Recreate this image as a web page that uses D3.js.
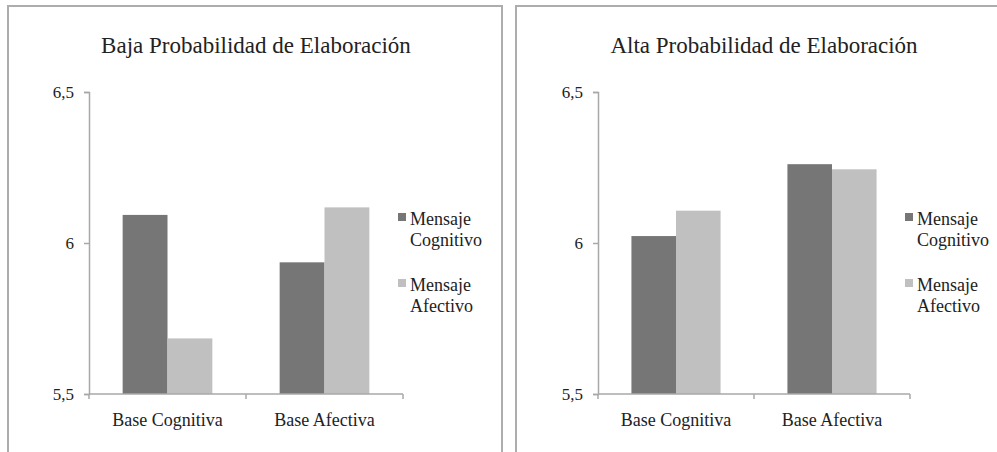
<!DOCTYPE html>
<html>
<head>
<meta charset="utf-8">
<script src="https://cdn.jsdelivr.net/npm/d3@7"></script>
<style>
  body { margin: 0; background: #fff; }
</style>
</head>
<body>
<div id="chart"></div>
<script>
// data
const categories = ["Base Cognitiva", "Base Afectiva"];
const seriesNames = ["Mensaje Cognitivo", "Mensaje Afectivo"];
const titles = ["Baja Probabilidad de Elaboración", "Alta Probabilidad de Elaboración"];
const bajaCognitivo = [6.093, 5.936];
const bajaAfectivo = [5.684, 6.118];
const altaCognitivo = [6.023, 6.261];
const altaAfectivo = [6.107, 6.244];
const yTicks = [5.5, 6, 6.5];
const tickLabels = ["5,5", "6", "6,5"];

const serif = "'Liberation Serif', 'Times New Roman', Tinos, 'DejaVu Serif', serif";

const panels = [
  { title: titles[0], values: [bajaCognitivo, bajaAfectivo], left: 8, right: 502, axisX: 89, axisEnd: 403 },
  { title: titles[1], values: [altaCognitivo, altaAfectivo], left: 516, right: 1010, axisX: 598, axisEnd: 910 }
];

const colorScale = d3.scaleOrdinal().domain(seriesNames).range(["#767676", "#c0c0c0"]);

const svg = d3.select("#chart").append("svg")
  .attr("width", 997).attr("height", 452);

const plotTop = 92, plotBottom = 394;
const yScale = d3.scaleLinear().domain([5.5, 6.5]).range([plotBottom, plotTop]);

panels.forEach(p => {
  const g = svg.append("g");

  // panel frame
  g.append("rect")
    .attr("x", p.left).attr("y", 6)
    .attr("width", p.right - p.left).attr("height", 460)
    .attr("fill", "none").attr("stroke", "#adadad").attr("stroke-width", 2);

  g.append("text")
    .attr("x", (p.axisX + p.axisEnd) / 2 + 10)
    .attr("y", 53)
    .attr("text-anchor", "middle")
    .style("font-family", serif)
    .style("font-size", "23px")
    .attr("fill", "#222")
    .text(p.title);

  const xScale = d3.scaleBand().domain(categories).range([p.axisX, p.axisEnd]);
  // Excel-like gap width 150%: two bars fill 2/3.5 of the band
  const barW = xScale.bandwidth() / 3.5;
  const inner = d3.scaleBand().domain(seriesNames).range([0, barW * 2]);

  const rows = [];
  categories.forEach((c, i) => {
    seriesNames.forEach((s, j) => rows.push({ cat: c, series: s, value: p.values[j][i] }));
  });

  g.selectAll("rect.bar")
    .data(rows)
    .join("rect")
    .attr("class", "bar")
    .attr("x", d => xScale(d.cat) + (xScale.bandwidth() - barW * 2) / 2 + inner(d.series))
    .attr("width", inner.bandwidth())
    .attr("y", d => yScale(d.value))
    .attr("height", d => yScale(5.5) - yScale(d.value))
    .attr("fill", d => colorScale(d.series));

  // y axis
  const yAxis = d3.axisLeft(yScale).tickValues(yTicks)
    .tickFormat((d, i) => tickLabels[i]).tickSize(5).tickPadding(10);
  const ya = g.append("g").attr("transform", `translate(${p.axisX},0)`).call(yAxis);
  ya.attr("font-family", null).attr("font-size", null);
  ya.select(".domain").attr("stroke", "#a8a8a8").attr("stroke-width", 1.5);
  ya.selectAll(".tick line").attr("stroke", "#a8a8a8").attr("stroke-width", 1.5);
  ya.selectAll("text").style("font-size", "17px").style("font-family", serif).attr("fill", "#222");

  // x axis
  const xa = g.append("g").attr("transform", `translate(0,${plotBottom})`)
    .call(d3.axisBottom(xScale).tickSize(0).tickPadding(19));
  xa.attr("font-family", null).attr("font-size", null);
  xa.select(".domain").attr("stroke", "#a8a8a8").attr("stroke-width", 1.5)
    .attr("d", `M${p.axisX},0H${p.axisEnd}`);
  xa.selectAll(".tick line").remove();
  xa.selectAll("text").style("font-size", "18px").style("font-family", serif).attr("fill", "#222");
  // category divider ticks
  const divs = [p.axisX, xScale(categories[1]), p.axisEnd];
  xa.selectAll("line.div").data(divs).join("line").attr("class", "div")
    .attr("x1", d => d).attr("x2", d => d).attr("y1", 0).attr("y2", 5)
    .attr("stroke", "#a8a8a8").attr("stroke-width", 1.5);

  // legend
  const lx = p.axisEnd - 5;
  const lg = g.selectAll("g.leg").data(seriesNames).join("g").attr("class", "leg")
    .attr("transform", (d, i) => `translate(${lx},${213 + i * 66})`);
  lg.append("rect").attr("width", 8).attr("height", 8).attr("fill", d => colorScale(d));
  lg.append("text").attr("x", 12).attr("y", 12)
    .style("font-size", "18px").style("font-family", serif).attr("fill", "#222")
    .selectAll("tspan").data(d => d.split(" ")).join("tspan")
    .attr("x", 12).attr("dy", (d, i) => i === 0 ? 0 : 21).text(d => d);
});
</script>
</body>
</html>
